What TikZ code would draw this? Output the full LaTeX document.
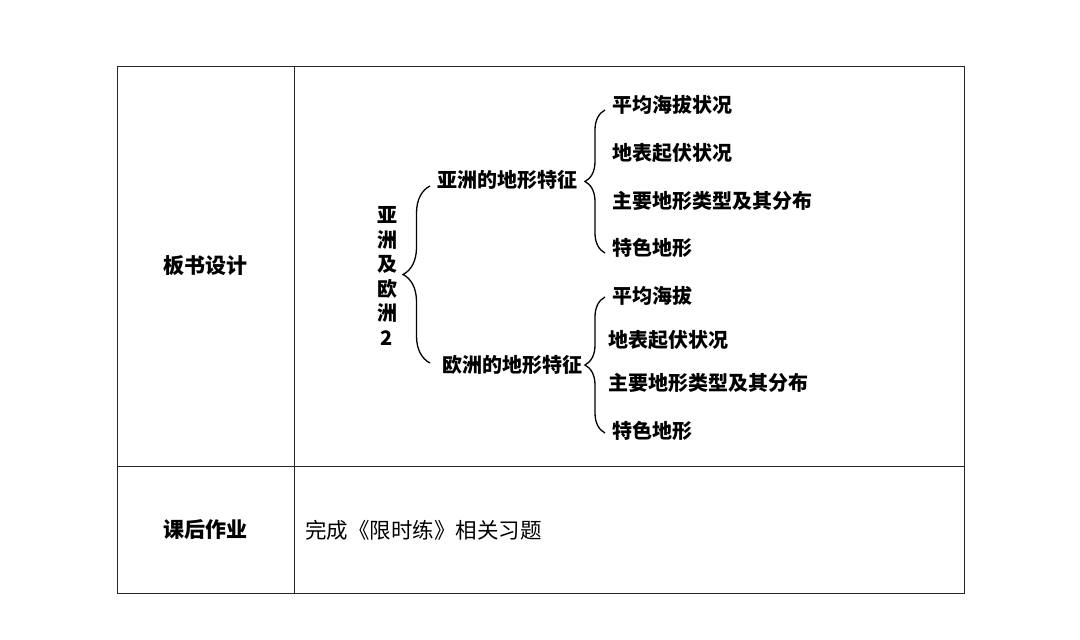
\documentclass[tikz,border=0pt]{standalone}
\usepackage{fontspec}
\setmainfont{Noto Sans CJK SC}
\usetikzlibrary{decorations.pathreplacing,positioning}

\begin{document}
\begin{tikzpicture}[
  x=1pt, y=-1pt,
  cell/.style={
    inner sep=0pt,
    font=\fontsize{21}{21}\selectfont\bfseries
  },
  item/.style={
    anchor=west,
    inner sep=0pt,
    font=\fontsize{20}{20}\selectfont\bfseries
  },
  grid/.style={line width=0.9pt, draw=black!85},
  curly/.style={decorate, decoration={brace, amplitude=#1}, line width=1.3pt}
]

\useasboundingbox (0,0) rectangle (1080,640);

% Table frame
\draw[grid] (117,66) rectangle (964,593);
\draw[grid] (294,66) -- (294,593);
\draw[grid] (117,466) -- (964,466);

% Left column
\node[cell] (design) at (205,266) {板书设计};
\node[cell] (homework) at (205,530) {课后作业};

% Homework text
\node[anchor=west,inner sep=0pt,font=\fontsize{21.5}{21.5}\selectfont] (task) at (305,530)
{完成《限时练》相关习题};

% Title (vertical)
\node[align=center,inner sep=0pt,font=\fontsize{20}{24.5}\selectfont\bfseries] (title) at (387,276)
{亚\\洲\\及\\欧\\洲\\2};

% Main brace
\coordinate (main_top) at (430,186);
\coordinate (main_bot) at (430,363);
\draw[curly=27pt] (main_bot) -- (main_top);

% Branches
\node[item] (asia) at (437,180) {亚洲的地形特征};
\node[item] (europe) at (442,365) {欧洲的地形特征};

% Asia brace and items
\coordinate (asia_top) at (605,110);
\coordinate (asia_bot) at (605,253);
\draw[curly=20pt] (asia_bot) -- (asia_top);

\node[item] (asia_alt) at (612,105) {平均海拔状况};
\node[item] (asia_relief) at (612,153) {地表起伏状况};
\node[item] (asia_types) at (612,201) {主要地形类型及其分布};
\node[item] (asia_special) at (612,248) {特色地形};

% Europe brace and items
\coordinate (eu_top) at (605,297);
\coordinate (eu_bot) at (605,433);
\draw[curly=20pt] (eu_bot) -- (eu_top);

\node[item] (eu_alt) at (612,296) {平均海拔};
\node[item] (eu_relief) at (608,340) {地表起伏状况};
\node[item] (eu_types) at (608,383) {主要地形类型及其分布};
\node[item] (eu_special) at (612,431) {特色地形};

\end{tikzpicture}
\end{document}
